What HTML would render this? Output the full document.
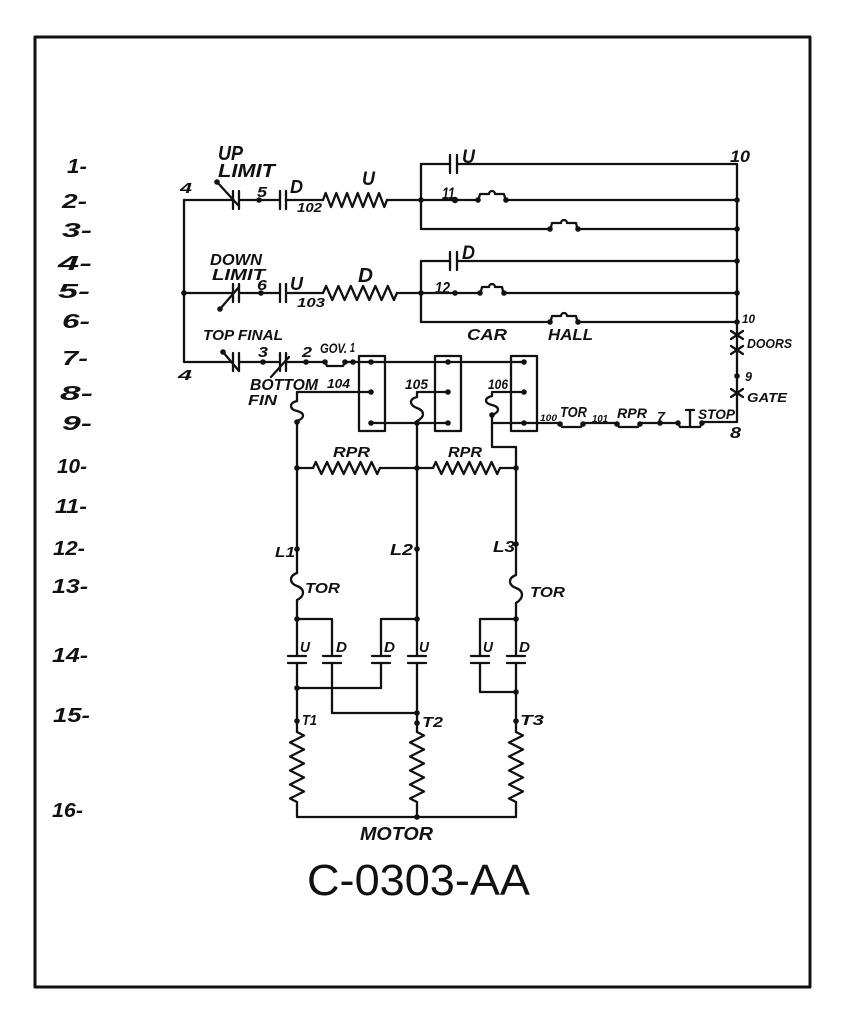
<!DOCTYPE html>
<html>
<head>
<meta charset="utf-8">
<style>
  html,body{margin:0;padding:0;background:#fff;}
  svg{display:block;}
  text{font-family:"Liberation Sans",sans-serif;font-style:italic;font-weight:bold;fill:#111;}
  .t{font-style:normal;font-weight:normal;}
</style>
</head>
<body>
<svg width="853" height="1024" viewBox="0 0 853 1024" xmlns="http://www.w3.org/2000/svg">
<rect x="0" y="0" width="853" height="1024" fill="#fff"/>
<g stroke="#111" stroke-width="2.3" fill="none" stroke-linecap="round" stroke-linejoin="round">
  <!-- border -->
  <rect x="35" y="37" width="775" height="950" stroke-width="3"/>

  <!-- Row 2 : up limit branch -->
  <path d="M184,200 V362 H233"/>
  <path d="M184,200 H233 M233,191 V209 M239,191 V209 M239,200 H280 M280,191 V209 M286,191 V209 M286,200 H323"/>
  <path d="M217,182 L238,205"/>
  <polyline points="323,200 325.7,193 331,207 336.3,193 341.7,207 347,193 352.3,207 357.7,193 363,207 368.3,193 373.7,207 379,193 384.3,207 387,200"/>
  <path d="M387,200 H421"/>

  <!-- upper right box rows 1-3 -->
  <path d="M421,164 V229"/>
  <path d="M421,164 H450 M450,155 V173 M457,155 V173 M457,164 H737 V422"/>
  <path d="M421,200 H478 M506,200 H737"/>
  <path d="M421,229 H550 M578,229 H737"/>
  <!-- push buttons -->
  <path d="M479,198 L480,194 H489 A3,3 0 0 1 495,194 H504 L505,198"/>
  <path d="M551,227 L552,223 H561 A3,3 0 0 1 567,223 H576 L577,227"/>

  <!-- Row 5 : down limit branch -->
  <path d="M184,293 H233 M233,284 V302 M239,284 V302 M239,293 H280 M280,284 V302 M286,284 V302 M286,293 H323"/>
  <path d="M220,309 L239,287"/>
  <polyline points="323,293 326.1,286 332.3,300 338.4,286 344.6,300 350.8,286 356.9,300 363.1,286 369.3,300 375.4,286 381.6,300 387.8,286 393.9,300 397,293"/>
  <path d="M397,293 H421"/>
  <path d="M421,261 V322"/>
  <path d="M421,261 H450 M450,252 V270 M457,252 V270 M457,261 H737"/>
  <path d="M421,293 H480 M504,293 H737"/>
  <path d="M421,322 H550 M578,322 H737"/>
  <path d="M481,291 L482,287 H489 A3,3 0 0 1 495,287 H502 L503,291"/>
  <path d="M551,320 L552,316 H561 A3,3 0 0 1 567,316 H576 L577,320"/>

  <!-- doors / gate X -->
  <path d="M731,331 L743,339 M743,331 L731,339"/>
  <path d="M731,346 L743,354 M743,346 L731,354"/>
  <path d="M731,389 L743,397 M743,389 L731,397"/>

  <!-- Row 7 -->
  <path d="M233,353 V371 M239,353 V371 M239,362 H280 M280,353 V371 M286,353 V371 M286,362 H325"/>
  <path d="M223,352 L239,371"/>
  <path d="M271,377 L289,357"/>
  <path d="M325,362 L327,366 H343 L345,362"/>
  <path d="M345,362 H524"/>

  <!-- relay boxes -->
  <rect x="359" y="356" width="26" height="75"/>
  <rect x="435" y="356" width="26" height="75"/>
  <rect x="511" y="356" width="26" height="75"/>

  <!-- Row 8 -->
  <path d="M371,392 H297 V401"/>
  <path d="M297,401 C289,403 289,409 297,411 C305,413 305,418 297,421"/>
  <path d="M297,421 V573"/>
  <path d="M448,392 H417 V397"/>
  <path d="M417,397 C409,399 409,405 417,408 C425,411 425,417 417,421"/>
  <path d="M417,421 V656"/>
  <path d="M524,392 H492 V396"/>
  <path d="M492,396 C484,398 484,403 492,405 C500,407 500,412 492,415"/>
  <path d="M492,415 V447 H516 V575"/>

  <!-- Row 9 -->
  <path d="M371,423 H448"/>
  <path d="M492,423 H560"/>
  <path d="M560,423 L562,427 H581 L583,423 M583,423 H617"/>
  <path d="M617,423 L619,427 H638 L640,423 M640,423 H678"/>
  <path d="M678,423 L680,427 H700 L702,423"/>
  <path d="M690,410 V427 M686,410 H694"/>
  <path d="M702,422 H737"/>

  <!-- Row 10 RPR -->
  <path d="M297,468 H313"/>
  <polyline points="313,468 315.8,462 321.4,474 327,462 332.5,474 338.1,462 343.7,474 349.3,462 354.9,474 360.5,462 366,474 371.6,462 377.2,474 380,468"/>
  <path d="M380,468 H417 M417,468 H433"/>
  <polyline points="433,468 435.8,462 441.4,474 447,462 452.5,474 458.1,462 463.7,474 469.3,462 474.9,474 480.5,462 486,474 491.6,462 497.2,474 500,468"/>
  <path d="M500,468 H516"/>

  <!-- TOR fuses rows 13 -->
  <path d="M297,573 C289,576 289,583 297,586 C305,589 305,596 297,600"/>
  <path d="M297,600 V656"/>
  <path d="M516,575 C508,578 508,585 516,588 C524,591 524,598 516,603"/>
  <path d="M516,603 V656"/>

  <!-- contactor cross-connections -->
  <path d="M297,619 H332 V656"/>
  <path d="M417,619 H381 V656"/>
  <path d="M516,619 H480 V656"/>
  <!-- contact plates -->
  <path d="M288,656 H306 M288,663 H306"/>
  <path d="M323,656 H341 M323,663 H341"/>
  <path d="M372,656 H390 M372,663 H390"/>
  <path d="M408,656 H426 M408,663 H426"/>
  <path d="M471,656 H489 M471,663 H489"/>
  <path d="M507,656 H525 M507,663 H525"/>
  <!-- lower connections -->
  <path d="M332,663 V713 H417"/>
  <path d="M381,663 V688 H297"/>
  <path d="M480,663 V692 H516"/>
  <path d="M297,663 V732"/>
  <path d="M417,663 V732"/>
  <path d="M516,663 V732"/>

  <!-- motor coils -->
  <polyline points="297,732 304,735.5 290,742.5 304,749.5 290,756.5 304,763.5 290,770.5 304,777.5 290,784.5 304,791.5 290,798.5 297,802"/>
  <polyline points="417,732 424,735.5 410,742.5 424,749.5 410,756.5 424,763.5 410,770.5 424,777.5 410,784.5 424,791.5 410,798.5 417,802"/>
  <polyline points="516,732 523,735.5 509,742.5 523,749.5 509,756.5 523,763.5 509,770.5 523,777.5 509,784.5 523,791.5 509,798.5 516,802"/>
  <path d="M297,802 V817 H516 V802 M417,802 V817"/>
</g>

<!-- dots -->
<g fill="#111">
  <circle cx="217" cy="182" r="2.8"/><circle cx="259" cy="200" r="2.8"/><circle cx="421" cy="200" r="2.8"/>
  <circle cx="455" cy="200" r="3.2"/><circle cx="478" cy="200" r="2.8"/><circle cx="506" cy="200" r="2.8"/>
  <circle cx="737" cy="200" r="2.8"/><circle cx="550" cy="229" r="2.8"/><circle cx="578" cy="229" r="2.8"/>
  <circle cx="737" cy="229" r="2.8"/><circle cx="737" cy="261" r="2.8"/><circle cx="184" cy="293" r="2.8"/>
  <circle cx="220" cy="309" r="2.8"/><circle cx="261" cy="293" r="2.8"/><circle cx="421" cy="293" r="2.8"/>
  <circle cx="455" cy="293" r="2.8"/><circle cx="480" cy="293" r="2.8"/><circle cx="504" cy="293" r="2.8"/>
  <circle cx="737" cy="293" r="2.8"/><circle cx="550" cy="322" r="2.8"/><circle cx="578" cy="322" r="2.8"/>
  <circle cx="737" cy="322" r="2.8"/><circle cx="737" cy="376" r="2.8"/>
  <circle cx="223" cy="352" r="2.8"/><circle cx="263" cy="362" r="2.8"/><circle cx="306" cy="362" r="2.8"/>
  <circle cx="325" cy="362" r="2.8"/><circle cx="345" cy="362" r="2.8"/><circle cx="353" cy="362" r="2.8"/>
  <circle cx="371" cy="362" r="2.8"/><circle cx="448" cy="362" r="2.8"/><circle cx="524" cy="362" r="2.8"/>
  <circle cx="371" cy="392" r="2.8"/><circle cx="448" cy="392" r="2.8"/><circle cx="524" cy="392" r="2.8"/>
  <circle cx="371" cy="423" r="2.8"/><circle cx="448" cy="423" r="2.8"/><circle cx="524" cy="423" r="2.8"/>
  <circle cx="297" cy="422" r="2.8"/><circle cx="417" cy="423" r="2.8"/><circle cx="492" cy="415" r="2.8"/>
  <circle cx="560" cy="424" r="2.8"/><circle cx="583" cy="424" r="2.8"/><circle cx="617" cy="424" r="2.8"/>
  <circle cx="640" cy="424" r="2.8"/><circle cx="660" cy="423" r="2.8"/><circle cx="678" cy="423" r="2.8"/>
  <circle cx="702" cy="423" r="2.8"/>
  <circle cx="297" cy="468" r="2.8"/><circle cx="417" cy="468" r="2.8"/><circle cx="516" cy="468" r="2.8"/>
  <circle cx="297" cy="549" r="2.8"/><circle cx="417" cy="549" r="2.8"/><circle cx="516" cy="544" r="2.8"/>
  <circle cx="297" cy="619" r="2.8"/><circle cx="417" cy="619" r="2.8"/><circle cx="516" cy="619" r="2.8"/>
  <circle cx="297" cy="688" r="2.8"/><circle cx="417" cy="713" r="2.8"/><circle cx="516" cy="692" r="2.8"/>
  <circle cx="297" cy="721" r="2.8"/><circle cx="417" cy="723" r="2.8"/><circle cx="516" cy="721" r="2.8"/>
  <circle cx="417" cy="817" r="2.8"/>
</g>

<!-- row numbers -->
<g font-size="20">
  <text x="67" y="173" textLength="20" lengthAdjust="spacingAndGlyphs">1-</text>
  <text x="62" y="208" textLength="25" lengthAdjust="spacingAndGlyphs">2-</text>
  <text x="62" y="237" textLength="30" lengthAdjust="spacingAndGlyphs">3-</text>
  <text x="58" y="270" textLength="34" lengthAdjust="spacingAndGlyphs">4-</text>
  <text x="58" y="298" textLength="32" lengthAdjust="spacingAndGlyphs">5-</text>
  <text x="62" y="328" textLength="28" lengthAdjust="spacingAndGlyphs">6-</text>
  <text x="62" y="365" textLength="26" lengthAdjust="spacingAndGlyphs">7-</text>
  <text x="60" y="400" textLength="33" lengthAdjust="spacingAndGlyphs">8-</text>
  <text x="62" y="430" textLength="30" lengthAdjust="spacingAndGlyphs">9-</text>
  <text x="57" y="473" textLength="30" lengthAdjust="spacingAndGlyphs">10-</text>
  <text x="55" y="513" textLength="32" lengthAdjust="spacingAndGlyphs">11-</text>
  <text x="53" y="555" textLength="32" lengthAdjust="spacingAndGlyphs">12-</text>
  <text x="52" y="593" textLength="36" lengthAdjust="spacingAndGlyphs">13-</text>
  <text x="52" y="662" textLength="36" lengthAdjust="spacingAndGlyphs">14-</text>
  <text x="53" y="722" textLength="37" lengthAdjust="spacingAndGlyphs">15-</text>
  <text x="52" y="817" textLength="31" lengthAdjust="spacingAndGlyphs">16-</text>
</g>

<!-- circuit labels -->
<text x="218" y="160" font-size="20" textLength="25" lengthAdjust="spacingAndGlyphs">UP</text>
<text x="218" y="177" font-size="18" textLength="57" lengthAdjust="spacingAndGlyphs">LIMIT</text>
<text x="180" y="193" font-size="15" textLength="12" lengthAdjust="spacingAndGlyphs">4</text>
<text x="257" y="197" font-size="15" textLength="10" lengthAdjust="spacingAndGlyphs">5</text>
<text x="290" y="193" font-size="18" textLength="13" lengthAdjust="spacingAndGlyphs">D</text>
<text x="297" y="212" font-size="13" textLength="25" lengthAdjust="spacingAndGlyphs">102</text>
<text x="362" y="185" font-size="19" textLength="13" lengthAdjust="spacingAndGlyphs">U</text>
<text x="462" y="163" font-size="19" textLength="13" lengthAdjust="spacingAndGlyphs">U</text>
<text x="730" y="162" font-size="17" textLength="20" lengthAdjust="spacingAndGlyphs">10</text>
<text x="442" y="199" font-size="17" textLength="13" lengthAdjust="spacingAndGlyphs">11</text>

<text x="210" y="265" font-size="16" textLength="52" lengthAdjust="spacingAndGlyphs">DOWN</text>
<text x="212" y="280" font-size="16" textLength="53" lengthAdjust="spacingAndGlyphs">LIMIT</text>
<text x="257" y="290" font-size="15" textLength="10" lengthAdjust="spacingAndGlyphs">6</text>
<text x="290" y="290" font-size="18" textLength="13" lengthAdjust="spacingAndGlyphs">U</text>
<text x="297" y="307" font-size="13" textLength="28" lengthAdjust="spacingAndGlyphs">103</text>
<text x="358" y="282" font-size="20" textLength="15" lengthAdjust="spacingAndGlyphs">D</text>
<text x="462" y="259" font-size="19" textLength="13" lengthAdjust="spacingAndGlyphs">D</text>
<text x="435" y="293" font-size="16" textLength="15" lengthAdjust="spacingAndGlyphs">12</text>
<text x="742" y="323" font-size="12" textLength="13" lengthAdjust="spacingAndGlyphs">10</text>
<text x="467" y="340" font-size="16" textLength="40" lengthAdjust="spacingAndGlyphs">CAR</text>
<text x="548" y="340" font-size="16" textLength="45" lengthAdjust="spacingAndGlyphs">HALL</text>
<text x="747" y="348" font-size="13" textLength="45" lengthAdjust="spacingAndGlyphs">DOORS</text>
<text x="745" y="381" font-size="13" textLength="7" lengthAdjust="spacingAndGlyphs">9</text>
<text x="747" y="402" font-size="13" textLength="40" lengthAdjust="spacingAndGlyphs">GATE</text>
<text x="730" y="438" font-size="16" textLength="11" lengthAdjust="spacingAndGlyphs">8</text>

<text x="203" y="340" font-size="15" textLength="80" lengthAdjust="spacingAndGlyphs">TOP FINAL</text>
<text x="258" y="357" font-size="15" textLength="10" lengthAdjust="spacingAndGlyphs">3</text>
<text x="302" y="357" font-size="15" textLength="10" lengthAdjust="spacingAndGlyphs">2</text>
<text x="320" y="353" font-size="14" textLength="27" lengthAdjust="spacingAndGlyphs">GOV.</text>
<text x="350" y="352" font-size="13" textLength="5" lengthAdjust="spacingAndGlyphs">1</text>
<text x="178" y="380" font-size="15" textLength="14" lengthAdjust="spacingAndGlyphs">4</text>
<text x="250" y="390" font-size="16" textLength="68" lengthAdjust="spacingAndGlyphs">BOTTOM</text>
<text x="327" y="388" font-size="13" textLength="23" lengthAdjust="spacingAndGlyphs">104</text>
<text x="248" y="405" font-size="15" textLength="29" lengthAdjust="spacingAndGlyphs">FIN</text>
<text x="405" y="389" font-size="14" textLength="23" lengthAdjust="spacingAndGlyphs">105</text>
<text x="488" y="389" font-size="14" textLength="20" lengthAdjust="spacingAndGlyphs">106</text>

<text x="540" y="421" font-size="9" textLength="17" lengthAdjust="spacingAndGlyphs">100</text>
<text x="560" y="417" font-size="15" textLength="27" lengthAdjust="spacingAndGlyphs">TOR</text>
<text x="592" y="422" font-size="10" textLength="16" lengthAdjust="spacingAndGlyphs">101</text>
<text x="617" y="418" font-size="14" textLength="30" lengthAdjust="spacingAndGlyphs">RPR</text>
<text x="657" y="421" font-size="13" textLength="8" lengthAdjust="spacingAndGlyphs">7</text>
<text x="698" y="419" font-size="14" textLength="37" lengthAdjust="spacingAndGlyphs">STOP</text>

<text x="333" y="457" font-size="15" textLength="37" lengthAdjust="spacingAndGlyphs">RPR</text>
<text x="448" y="457" font-size="15" textLength="34" lengthAdjust="spacingAndGlyphs">RPR</text>

<text x="275" y="557" font-size="15" textLength="20" lengthAdjust="spacingAndGlyphs">L1</text>
<text x="390" y="555" font-size="16" textLength="23" lengthAdjust="spacingAndGlyphs">L2</text>
<text x="493" y="552" font-size="16" textLength="22" lengthAdjust="spacingAndGlyphs">L3</text>
<text x="305" y="593" font-size="15" textLength="35" lengthAdjust="spacingAndGlyphs">TOR</text>
<text x="530" y="597" font-size="15" textLength="35" lengthAdjust="spacingAndGlyphs">TOR</text>

<text x="300" y="652" font-size="15" textLength="10" lengthAdjust="spacingAndGlyphs">U</text>
<text x="336" y="652" font-size="15" textLength="11" lengthAdjust="spacingAndGlyphs">D</text>
<text x="384" y="652" font-size="15" textLength="11" lengthAdjust="spacingAndGlyphs">D</text>
<text x="419" y="652" font-size="15" textLength="10" lengthAdjust="spacingAndGlyphs">U</text>
<text x="483" y="652" font-size="15" textLength="10" lengthAdjust="spacingAndGlyphs">U</text>
<text x="519" y="652" font-size="15" textLength="11" lengthAdjust="spacingAndGlyphs">D</text>

<text x="302" y="725" font-size="15" textLength="15" lengthAdjust="spacingAndGlyphs">T1</text>
<text x="422" y="727" font-size="15" textLength="21" lengthAdjust="spacingAndGlyphs">T2</text>
<text x="520" y="725" font-size="15" textLength="24" lengthAdjust="spacingAndGlyphs">T3</text>
<text x="360" y="840" font-size="18" textLength="73" lengthAdjust="spacingAndGlyphs">MOTOR</text>

<text class="t" x="307" y="895" font-size="44" textLength="223" lengthAdjust="spacingAndGlyphs">C-0303-AA</text>
</svg>
</body>
</html>
